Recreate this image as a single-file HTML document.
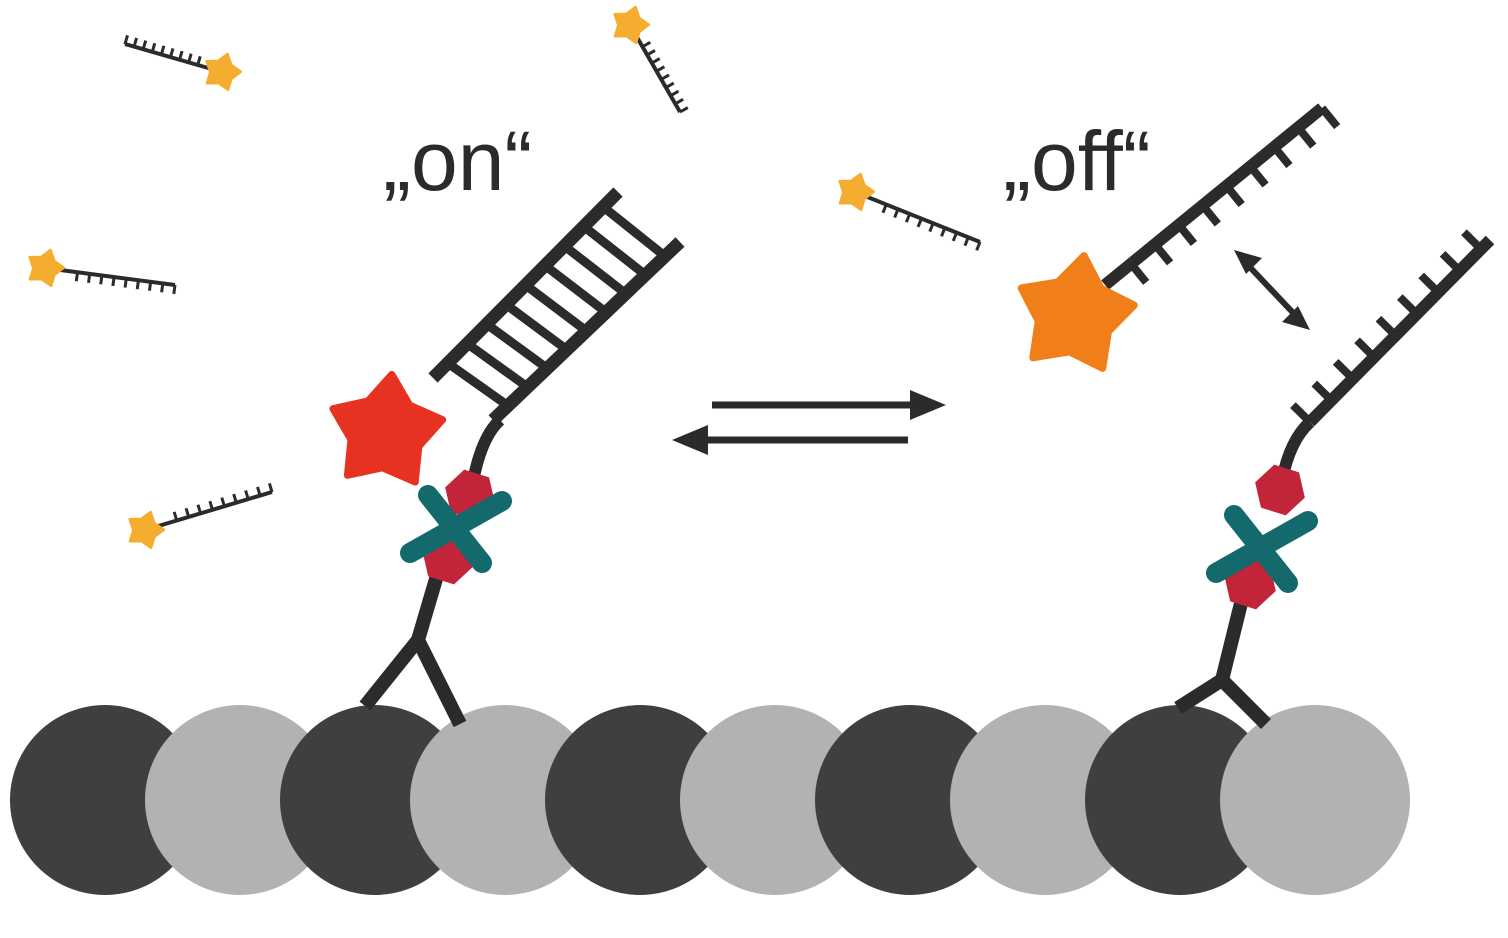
<!DOCTYPE html>
<html><head><meta charset="utf-8"><style>
html,body{margin:0;padding:0;background:#fff;}
svg{display:block;}
</style></head><body>
<svg id="s" width="1508" height="938" viewBox="0 0 1508 938" xmlns="http://www.w3.org/2000/svg">
<g id="circ"></g>
<g id="g"></g>
<text x="383" y="190" font-family="'Liberation Sans',sans-serif" font-size="84" fill="#2b2b2b">„on“</text>
<text x="1003" y="190" font-family="'Liberation Sans',sans-serif" font-size="84" fill="#2b2b2b">„off“</text>
</svg>
<script>
var NS="http://www.w3.org/2000/svg",g=document.getElementById('g'),c=document.getElementById('circ');
function el(t,a,p){var e=document.createElementNS(NS,t);for(var k in a)e.setAttribute(k,a[k]);(p||g).appendChild(e);return e;}
var D="#2b2b2b";
var cx=[105,240,375,505,640,775,910,1045,1180,1315];
cx.forEach(function(x,i){el('circle',{cx:x,cy:800,r:95,fill:i%2?'#b1b2b2':'#3f3f3f'},c);});
function line(x1,y1,x2,y2,w,col){el('line',{x1:x1,y1:y1,x2:x2,y2:y2,stroke:col||D,'stroke-width':w});}
function star(x,y,r,col,rot){var p=[];for(var i=0;i<10;i++){var a=(rot||0)+Math.PI*i/5-Math.PI/2,rr=i%2?r*0.62:r;p.push((x+rr*Math.cos(a)).toFixed(1)+','+(y+rr*Math.sin(a)).toFixed(1));}el('polygon',{points:p.join(' '),fill:col,stroke:col,'stroke-width':r*0.12,'stroke-linejoin':'round'});}
function strand(x1,y1,x2,y2,n,len,side,w,tw,start,end){line(x1,y1,x2,y2,w);var dx=x2-x1,dy=y2-y1,L=Math.hypot(dx,dy),ux=dx/L,uy=dy/L,px=-uy*side,py=ux*side;
for(var i=0;i<n;i++){var t=start+(end-start)*i/(n-1);var bx=x1+dx*t,by=y1+dy*t;line(bx,by,bx+px*len,by+py*len,tw);}}
function probe(sx,sy,ex,ey,side){strand(sx,sy,ex,ey,9,9,side,4,3,0.25,1);star(sx,sy,19,'#f5ad2f',0.3);}
probe(222,72,125,44,1);
probe(630,25,680,112,-1);
probe(45,268,175,285,1);
probe(855,192,980,242,1);
probe(145,530,272,492,-1);
function hex(x,y,r){var p=[];for(var i=0;i<6;i++){var a=Math.PI/3*i+0.3;p.push((x+r*Math.cos(a))+','+(y+r*Math.sin(a)));}return p.join(' ');}
function rec(x1,y1,x2,y2,tx,ty){
 el('polygon',{points:hex(x1,y1,27),fill:'#c22539'});
 el('polygon',{points:hex(x2,y2,26),fill:'#c22539'});
 el('path',{d:'M'+(tx-46)+' '+(ty+26)+' L'+(tx+46)+' '+(ty-26)+' M'+(tx-28)+' '+(ty-32)+' L'+(tx+26)+' '+(ty+36),stroke:'#14696d','stroke-width':20,'stroke-linecap':'round',fill:'none'});
}
// left antibody
line(365,706,418,640,14);line(460,724,418,640,14);line(418,640,446,545,14);
el('path',{d:'M470 500 Q478 440 500 420',fill:'none',stroke:D,'stroke-width':12});
line(433,378,618,192,13);line(493,420,680,242,13);
for(var i=0;i<9;i++){var t=0.08+0.84*i/8;var ax=433+185*t,ay=378-186*t,bx=493+187*t,by=420-178*t;line(ax,ay,bx,by,9);}
star(386,432,58,'#e73221',0.1);
rec(448,558,470,495,456,527);
// right antibody
line(1178,708,1222,680,14);line(1266,724,1222,680,14);line(1222,680,1248,575,14);
el('path',{d:'M1282 480 Q1290 440 1310 422',fill:'none',stroke:D,'stroke-width':12});
rec(1250,583,1280,490,1262,547);
strand(1310,422,1490,240,9,24,-1,12,8,0.0,0.95);
strand(1105,285,1322,108,9,24,1,12,8,0.12,1);
star(1075,315,60,'#f07f1a',0.15);
// double arrow
line(1245,262,1298,318,6);
el('polygon',{points:'1234,250 1262,258 1246,274',fill:D});
el('polygon',{points:'1310,330 1282,322 1298,306',fill:D});
// equilibrium arrows
line(712,405,915,405,7);el('polygon',{points:'946,405 910,390 910,420',fill:D});
line(908,440,705,440,7);el('polygon',{points:'672,440 708,425 708,455',fill:D});
</script>
</body></html>
